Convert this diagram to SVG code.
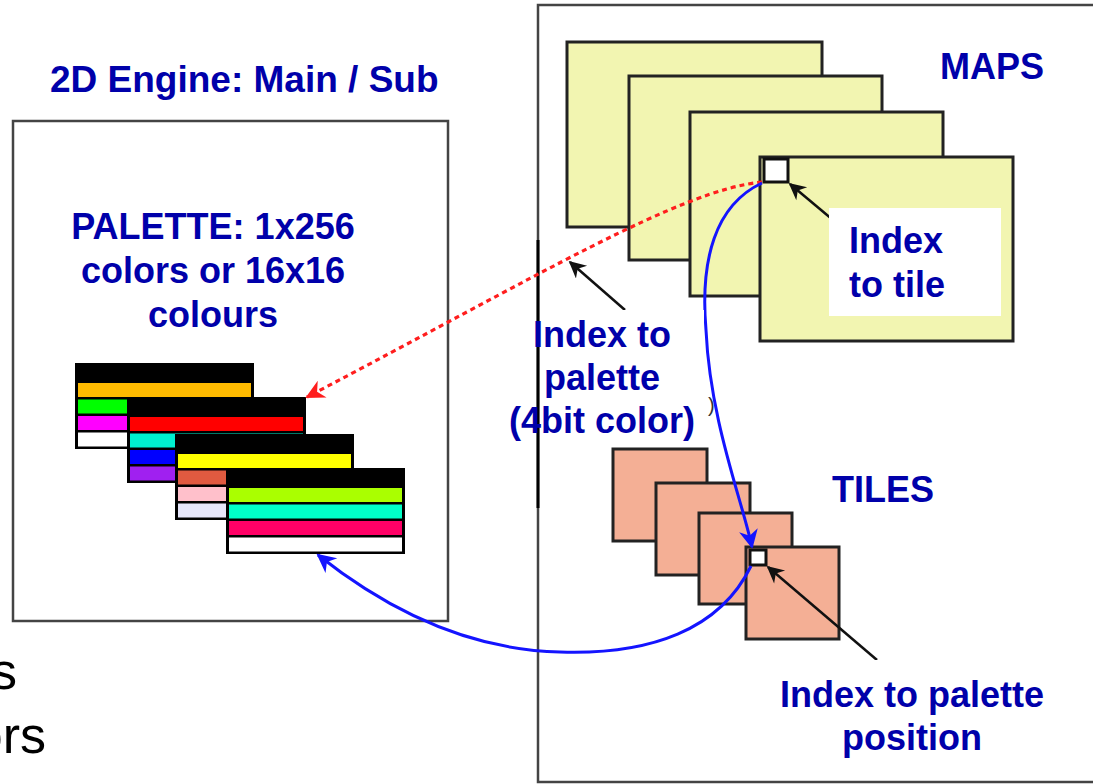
<svg xmlns="http://www.w3.org/2000/svg" width="1093" height="784" viewBox="0 0 1093 784">
<defs>
<style>
.lbl{font-family:"Liberation Sans",Arial,sans-serif;font-weight:bold;font-size:36px;fill:#0000AA}
.plain{font-family:"Liberation Sans",Arial,sans-serif;font-size:52px;fill:#000}
.frame{fill:#fff;stroke:#444;stroke-width:2.5}
.map{fill:#F2F5B1;stroke:#222;stroke-width:3}
.tile{fill:#F4AF95;stroke:#222;stroke-width:3}
.cell{fill:#fff;stroke:#111;stroke-width:3}
.blk{fill:none;stroke:#111;stroke-width:2.5}
.blue{fill:none;stroke:#1414FF;stroke-width:3}
.red{fill:none;stroke:#FF1E1E;stroke-width:3.2;stroke-dasharray:5 4}
.wb{fill:#fff}
</style>
<marker id="ahBlack" viewBox="0 0 10 10" refX="9" refY="5" markerWidth="20" markerHeight="17" markerUnits="userSpaceOnUse" orient="auto"><path d="M0,0 L10,5 L0,10 L3,5 z" fill="#111"/></marker>
<marker id="ahBlue" viewBox="0 0 10 10" refX="9" refY="5" markerWidth="21" markerHeight="19" markerUnits="userSpaceOnUse" orient="auto"><path d="M0,0 L10,5 L0,10 L3,5 z" fill="#1414FF"/></marker>
<marker id="ahRed" viewBox="0 0 10 10" refX="9" refY="5" markerWidth="21" markerHeight="19" markerUnits="userSpaceOnUse" orient="auto"><path d="M0,0 L10,5 L0,10 L3,5 z" fill="#FF1E1E"/></marker>
</defs>
<rect width="1093" height="784" fill="#fff"/>

<g id="engine-box">
<rect class="frame" x="13" y="121" width="435" height="500"/>
<text class="lbl" x="50" y="92" style="font-size:37px">2D Engine: Main / Sub</text>
<text class="lbl" x="213" y="239" text-anchor="middle">PALETTE: 1x256</text>
<text class="lbl" x="213" y="283" text-anchor="middle">colors or 16x16</text>
<text class="lbl" x="213" y="327" text-anchor="middle">colours</text>
</g>

<g id="palette-1">
<rect x="75" y="363" width="179" height="86" fill="#000"/>
<rect x="78" y="383" width="173" height="14" fill="#FFBB00"/>
<rect x="78" y="399.5" width="173" height="14" fill="#00FF00"/>
<rect x="78" y="416" width="173" height="14" fill="#FF00FF"/>
<rect x="78" y="432.5" width="173" height="14" fill="#FFFFFF"/>
</g>
<g id="palette-2">
<rect x="127" y="397" width="179" height="86" fill="#000"/>
<rect x="130" y="417" width="173" height="14" fill="#FF0000"/>
<rect x="130" y="433.5" width="173" height="14" fill="#00F0D0"/>
<rect x="130" y="450" width="173" height="14" fill="#0000FF"/>
<rect x="130" y="466.5" width="173" height="14" fill="#A020F0"/>
</g>
<g id="palette-3">
<rect x="175" y="434" width="179" height="86" fill="#000"/>
<rect x="178" y="454" width="173" height="14" fill="#FFFF00"/>
<rect x="178" y="470.5" width="173" height="14" fill="#E05A40"/>
<rect x="178" y="487" width="173" height="14" fill="#FFC0CB"/>
<rect x="178" y="503.5" width="173" height="14" fill="#E6E6FA"/>
</g>
<g id="palette-4">
<rect x="226" y="468" width="179" height="86" fill="#000"/>
<rect x="229" y="488" width="173" height="14" fill="#AAFF00"/>
<rect x="229" y="504.5" width="173" height="14" fill="#00FFC8"/>
<rect x="229" y="521" width="173" height="14" fill="#FF0066"/>
<rect x="229" y="537.5" width="173" height="14" fill="#FFFFFF"/>
</g>

<g id="vram-box">
<rect class="frame" x="538" y="5" width="600" height="777"/>
<line x1="538" y1="240" x2="538" y2="508" stroke="#000" stroke-width="3"/>
</g>

<g id="maps">
<rect class="map" x="567" y="42" width="255" height="185"/>
<rect class="map" x="629" y="76" width="253" height="184"/>
<rect class="map" x="690" y="112" width="253" height="184"/>
<rect class="map" x="760" y="157" width="253" height="184"/>
<rect class="cell" x="764" y="159" width="24" height="23"/>
<text class="lbl" x="940" y="79">MAPS</text>
</g>

<g id="tiles">
<rect class="tile" x="613" y="449" width="94" height="92"/>
<rect class="tile" x="656" y="483" width="94" height="92"/>
<rect class="tile" x="699" y="513" width="93" height="91"/>
<rect class="tile" x="746" y="547" width="93" height="92"/>
<rect class="cell" x="750" y="550" width="16" height="15"/>
<text class="lbl" x="832" y="502">TILES</text>
</g>

<g id="connectors">
<path class="red" d="M762,182 C680,190 540,275 307,397" marker-end="url(#ahRed)"/>
<path class="blue" d="M762,183 C715,205 700,260 706,330 C710,420 742,500 752,547" marker-end="url(#ahBlue)"/>
<path class="blue" d="M751,566 C720,630 650,655 560,652 C470,650 390,612 318,555" marker-end="url(#ahBlue)"/>
<line class="blk" x1="833" y1="220" x2="790" y2="184" marker-end="url(#ahBlack)"/>
<line class="blk" x1="625" y1="310" x2="570" y2="262" marker-end="url(#ahBlack)"/>
<line class="blk" x1="877" y1="660" x2="768" y2="567" marker-end="url(#ahBlack)"/>
</g>

<g id="label-index-tile">
<rect class="wb" x="829" y="208" width="172" height="108"/>
<text class="lbl" x="849" y="253">Index</text>
<text class="lbl" x="849" y="297">to tile</text>
</g>

<g id="label-index-palette">
<rect class="wb" x="540" y="310" width="164" height="134"/>
<text class="lbl" x="602" y="347" text-anchor="middle">Index to</text>
<text class="lbl" x="602" y="390" text-anchor="middle">palette</text>
<text class="lbl" x="602" y="433" text-anchor="middle">(4bit color)</text>
<text x="708" y="412" style="font-family:'Liberation Sans',Arial,sans-serif;font-size:20px;fill:#333">)</text>
</g>

<g id="label-palette-position">
<rect class="wb" x="760" y="660" width="310" height="118"/>
<text class="lbl" x="912" y="707" text-anchor="middle">Index to palette</text>
<text class="lbl" x="912" y="750" text-anchor="middle">position</text>
</g>

<g id="cut-text">
<text class="plain" x="17" y="689" text-anchor="end">s</text>
<text class="plain" x="46" y="753" text-anchor="end">ors</text>
</g>
</svg>
